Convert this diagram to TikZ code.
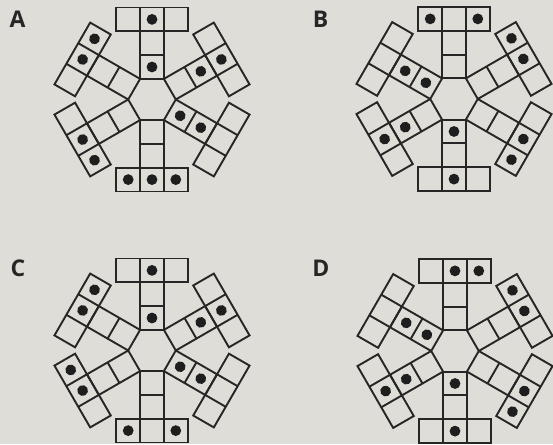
\documentclass[tikz,border=0pt]{standalone}
\usepackage{fontspec}
\setsansfont{Open Sans}
\definecolor{paper}{RGB}{222,221,215}
\definecolor{ink}{RGB}{38,38,38}
\tikzset{
  cellline/.style={draw=ink, line width=1.9pt, line join=miter},
  dotmark/.style={fill=ink!80!black},
  panellabel/.style={font=\sffamily\bfseries\fontsize{23}{23}\selectfont, text=ink, inner sep=0pt}
}
\newcommand{\cellsz}{23.8}
\newcommand{\apoth}{20.61}
% #1 centre, #2 outward angle, #3 dot cells (lateral/radial in cell units)
\newcommand{\drawarm}[3]{%
  \begin{scope}[shift={#1}, rotate=#2-90]
    \draw[cellline] (-0.5*\cellsz,\apoth) rectangle (0.5*\cellsz,\apoth+2*\cellsz);
    \draw[cellline] (-0.5*\cellsz,\apoth+\cellsz) -- (0.5*\cellsz,\apoth+\cellsz);
    \draw[cellline] (-1.5*\cellsz,\apoth+2*\cellsz) rectangle (1.5*\cellsz,\apoth+3*\cellsz);
    \draw[cellline] (-0.5*\cellsz,\apoth+2*\cellsz) -- (-0.5*\cellsz,\apoth+3*\cellsz)
                    (0.5*\cellsz,\apoth+2*\cellsz) -- (0.5*\cellsz,\apoth+3*\cellsz);
    \foreach \cx/\cy in {#3} { \fill[dotmark] (\cx*\cellsz,\apoth+\cy*\cellsz) circle (5.4); }
  \end{scope}}
\begin{document}
\begin{tikzpicture}[x=1pt,y=1pt]
  \fill[paper] (0,0) rectangle (553,444);
  \useasboundingbox (0,0) rectangle (553,444);
  % labels
  \node[panellabel] (labA) at (17.5,424.5) {A};
  \node[panellabel] (labB) at (320.5,424.5) {B};
  \node[panellabel] (labC) at (18,175.5) {C};
  \node[panellabel] (labD) at (321,175.5) {D};
  % cells: s1 = 0/0.5, s2 = 0/1.5, bL = -1/2.5, bM = 0/2.5, bR = 1/2.5
  % Panel A
  \coordinate (cA) at (152,344.5);
  \drawarm{(cA)}{90}{0/0.5, 0/2.5}
  \drawarm{(cA)}{30}{0/1.5, 0/2.5}
  \drawarm{(cA)}{-30}{0/0.5, 0/1.5}
  \drawarm{(cA)}{-90}{-1/2.5, 0/2.5, 1/2.5}
  \drawarm{(cA)}{-150}{0/2.5, -1/2.5}
  \drawarm{(cA)}{150}{0/2.5, 1/2.5}
  % Panel B
  \coordinate (cB) at (454,345);
  \drawarm{(cB)}{90}{-1/2.5, 1/2.5}
  \drawarm{(cB)}{30}{0/2.5, -1/2.5}
  \drawarm{(cB)}{-30}{0/2.5, 1/2.5}
  \drawarm{(cB)}{-90}{0/0.5, 0/2.5}
  \drawarm{(cB)}{-150}{0/1.5, 0/2.5}
  \drawarm{(cB)}{150}{0/0.5, 0/1.5}
  % Panel C
  \coordinate (cC) at (152,93.5);
  \drawarm{(cC)}{90}{0/0.5, 0/2.5}
  \drawarm{(cC)}{30}{0/1.5, 0/2.5}
  \drawarm{(cC)}{-30}{0/0.5, 0/1.5}
  \drawarm{(cC)}{-90}{-1/2.5, 1/2.5}
  \drawarm{(cC)}{-150}{0/2.5, 1/2.5}
  \drawarm{(cC)}{150}{0/2.5, 1/2.5}
  % Panel D
  \coordinate (cD) at (455,93);
  \drawarm{(cD)}{90}{0/2.5, 1/2.5}
  \drawarm{(cD)}{30}{0/2.5, -1/2.5}
  \drawarm{(cD)}{-30}{0/2.5, 1/2.5}
  \drawarm{(cD)}{-90}{0/0.5, 0/2.5}
  \drawarm{(cD)}{-150}{0/1.5, 0/2.5}
  \drawarm{(cD)}{150}{0/0.5, 0/1.5}
\end{tikzpicture}
\end{document}
